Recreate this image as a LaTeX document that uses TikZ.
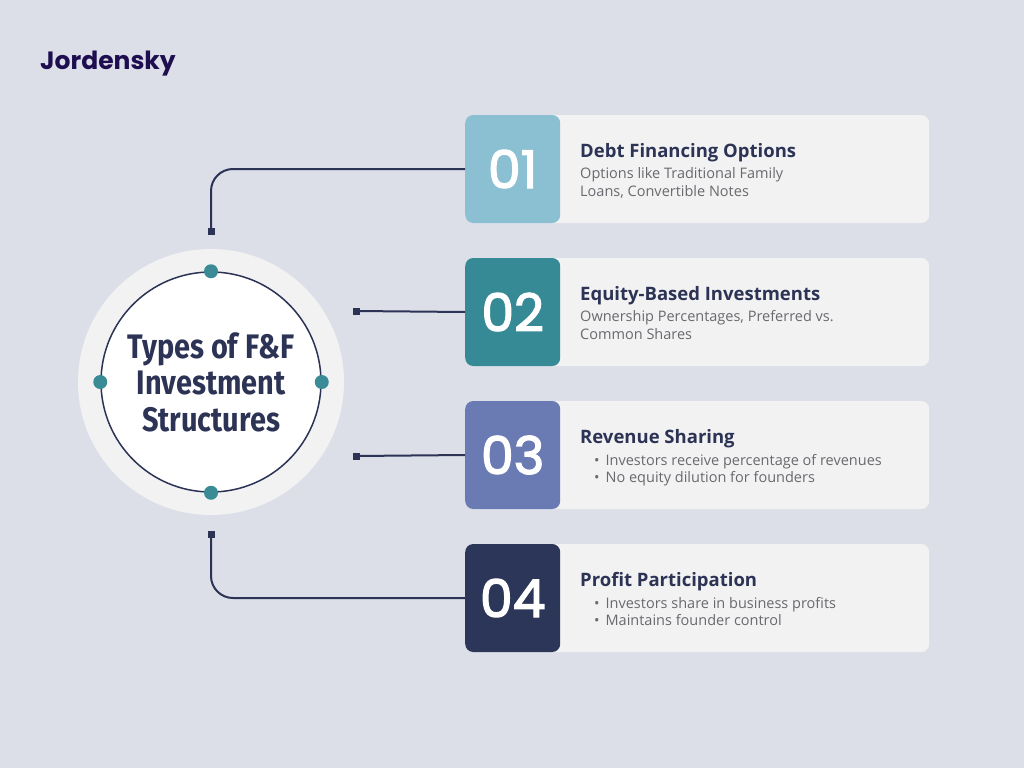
\documentclass[tikz,border=0pt]{standalone}
\usepackage{fontspec}
\setmainfont{Open Sans}
\newfontfamily\popfont{Poppins}
\newfontfamily\popnum{Poppins}[FakeBold=2.5]
\newfontfamily\condfont{Fira Sans}[FakeStretch=0.85]
\definecolor{bg}{RGB}{220,223,232}
\definecolor{cardbg}{RGB}{242,242,243}
\definecolor{navy}{RGB}{44,51,85}
\definecolor{logo}{RGB}{30,14,80}
\definecolor{tealdot}{RGB}{58,139,150}
\definecolor{c1}{RGB}{139,191,210}
\definecolor{c2}{RGB}{54,138,150}
\definecolor{c3}{RGB}{106,123,179}
\definecolor{c4}{RGB}{44,54,88}
\definecolor{desc}{RGB}{105,105,110}
\tikzset{
  card/.style={fill=cardbg, rounded corners=8pt, minimum width=464pt, minimum height=108pt, anchor=west, inner sep=0pt},
  numbox/.style={rounded corners=8pt, minimum width=95pt, minimum height=108pt, anchor=west, inner sep=0pt, text=white, font=\popnum\fontsize{52}{52}\selectfont},
  ttl/.style={anchor=base west, inner sep=0pt, text=navy, font=\bfseries\fontsize{18.5}{18.5}\selectfont},
  dsc/.style={anchor=base west, inner sep=0pt, text=desc, font=\fontsize{14.5}{14.5}\selectfont},
  conn/.style={draw=navy, line width=2pt},
  sq/.style={fill=navy, minimum size=7pt, inner sep=0pt, draw=none},
  dot/.style={circle, fill=tealdot, minimum size=14pt, inner sep=0pt}
}
\begin{document}
\begin{tikzpicture}[x=1pt,y=-1pt]
\fill[bg] (0,0) rectangle (1024,768);
\useasboundingbox (0,0) rectangle (1024,768);
\node[anchor=base west, inner sep=0pt, text=logo, font=\popfont\bfseries\fontsize{25}{25}\selectfont] (logo) at (40,70) {Jordensky};
% circle
\node[circle, fill=cardbg, minimum size=266pt, inner sep=0pt] (outer) at (211,382) {};
\node[circle, fill=white, draw=navy, line width=1.5pt, minimum size=220pt, inner sep=0pt, align=center,
  text=navy, font=\condfont\bfseries\fontsize{34}{36.5}\selectfont] (inner) at (211,382) {Types of F\&F\\Investment\\Structures};
\node[dot] (dt) at (inner.north) {};
\node[dot] (db) at (inner.south) {};
\node[dot] (dl) at (inner.west) {};
\node[dot] (dr) at (inner.east) {};
% cards
\foreach \i/\y/\c/\n in {1/169/c1/01, 2/312/c2/02, 3/455/c3/03, 4/598/c4/04}{
  \node[card] (card\i) at (465,\y) {};
  \node[numbox, fill=\c] (num\i) at (465,\y) {\n};
}
\node[ttl] (t1) at (580,157) {Debt Financing Options};
\node[dsc] (d1a) at (580,178) {Options like Traditional Family};
\node[dsc] (d1b) at (580,196) {Loans, Convertible Notes};
\node[ttl] (t2) at (580,300) {Equity-Based Investments};
\node[dsc] (d2a) at (580,321) {Ownership Percentages, Preferred vs.};
\node[dsc] (d2b) at (580,339) {Common Shares};
\node[ttl] (t3) at (580,443) {Revenue Sharing};
\node[dsc] (d3a) at (594,465) {\textbullet\hspace{6pt}Investors receive percentage of revenues};
\node[dsc] (d3b) at (594,482) {\textbullet\hspace{6pt}No equity dilution for founders};
\node[ttl] (t4) at (580,586) {Profit Participation};
\node[dsc] (d4a) at (594,608) {\textbullet\hspace{6pt}Investors share in business profits};
\node[dsc] (d4b) at (594,625) {\textbullet\hspace{6pt}Maintains founder control};
% connectors
\node[sq] (s1) at (211,231) {};
\node[sq] (s2) at (356,311) {};
\node[sq] (s3) at (356,456) {};
\node[sq] (s4) at (211,534) {};
\draw[conn, rounded corners=22pt] (s1.center) |- (num1.west);
\draw[conn] (s2.center) -- (num2.west);
\draw[conn] (s3.center) -- (num3.west);
\draw[conn, rounded corners=22pt] (s4.center) |- (num4.west);
\node[sq] at (s1) {};
\node[sq] at (s4) {};
\end{tikzpicture}
\end{document}
